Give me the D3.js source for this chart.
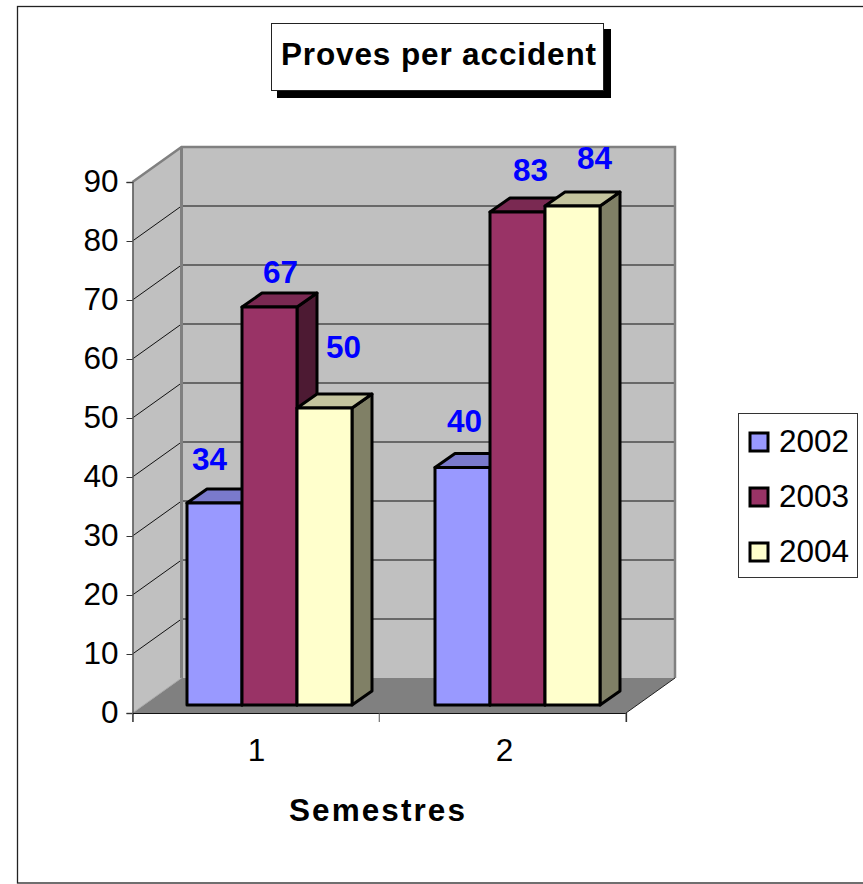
<!DOCTYPE html>
<html><head><meta charset="utf-8">
<script src="https://cdn.jsdelivr.net/npm/d3@7"></script>
<style>html,body{margin:0;padding:0;background:#fff;overflow:hidden}svg{display:block}text{font-family:"Liberation Sans",Arial,sans-serif}</style>
</head><body><svg id="c" width="863" height="884"></svg>
<script>
const categories = ["1", "2"];
const seriesNames = ["2002", "2003", "2004"];
const values2002 = [34, 40];
const values2003 = [67, 83];
const values2004 = [50, 84];
const yTicks = [0, 10, 20, 30, 40, 50, 60, 70, 80, 90];
const titleText = "Proves per accident";
const xAxisTitle = "Semestres";
const frontColors = ["#9999ff", "#993366", "#ffffcc"];
const topColors = ["#7a7acc", "#7a2952", "#c4c49e"];
const sideColors = ["#4d4d80", "#4d1a33", "#808066"];
// label nudges relative to the bar's top centre: [dx, dy] per series, per category
const labelNudges = [[[-5, -33], [2, -35]], [[11, -24], [13, -31]], [[19, -50], [22, -37]]];

const seriesValues = [values2002, values2003, values2004];
const svg = d3.select("#c");
const F = 'fill', N = 'none';
const fontSize = 31.5;

// plot geometry
const plot = {left: 132.5, right: 626, bottom: 713, top: 182, dx: 49, dy: -35};
const barDepth = {dx: 20, dy: -14};
const y = d3.scaleLinear().domain([0, 90]).range([plot.bottom, plot.top]);
const x0 = d3.scaleBand().domain(categories).range([plot.left, plot.right]);
// bars stand a little inside the floor
const barBase = 705, barUnit = 5.94;
const yBar = d3.scaleLinear().domain([0, 90]).range([barBase, barBase - 90 * barUnit]);
const xBar = d3.scaleBand().domain(categories).range([145.5, 641.5]);
const x1 = d3.scaleBand().domain(seriesNames).range([41.5, 206.5]);

const line = d3.line();
function poly(g, pts, fill, stroke, sw) {
  return g.append("path").attr("d", line(pts) + "Z").attr("fill", fill)
    .attr("stroke", stroke || "none").attr("stroke-width", sw || 0).attr("stroke-linejoin", "round");
}

// outer frame
svg.append("rect").attr("x", 17.5).attr("y", 6.5).attr("width", 900).attr("height", 876.5)
  .attr("fill", "#fff").attr("stroke", "#222").attr("stroke-width", 1.3);

// walls
const walls = svg.append("g");
const bx0 = plot.left + plot.dx, bx1 = plot.right + plot.dx;
const yT = y(90), yB = y(0);
poly(walls, [[plot.left, yB], [bx0, yB + plot.dy], [bx0, yT + plot.dy], [plot.left, yT]], "#c0c0c0");
poly(walls, [[bx0, yB + plot.dy], [bx1, yB + plot.dy], [bx1, yT + plot.dy], [bx0, yT + plot.dy]], "#c0c0c0");
poly(walls, [[plot.left, yB], [plot.right, yB], [bx1, yB + plot.dy], [bx0, yB + plot.dy]], "#808080");

// gridlines
yTicks.filter(t => t > 0 && t < 90).forEach(t => {
  walls.append("path").attr("d", line([[plot.left, y(t)], [bx0, y(t) + plot.dy], [bx1, y(t) + plot.dy]]))
    .attr(F, N).attr("stroke", "#111").attr("stroke-width", 1);
});
// wall edges
walls.append("path").attr("d", line([[plot.left, yT], [bx0, yT + plot.dy], [bx1, yT + plot.dy], [bx1, yB + plot.dy]]))
  .attr(F, N).attr("stroke", "#808080").attr("stroke-width", 2.5);
walls.append("path").attr("d", line([[bx0, yT + plot.dy], [bx0, yB + plot.dy]]))
  .attr(F, N).attr("stroke", "#808080").attr("stroke-width", 3);
walls.append("path").attr("d", line([[plot.right, yB], [bx1, yB + plot.dy]]))
  .attr(F, N).attr("stroke", "#222").attr("stroke-width", 1);
walls.append("path").attr("d", line([[plot.left, yB], [bx0, yB + plot.dy]]))
  .attr(F, N).attr("stroke", "#aaa").attr("stroke-width", 1);

// axes
const yAxis = d3.axisLeft(y).tickValues(yTicks).tickSize(6).tickPadding(8);
const gy = svg.append("g").attr("transform", `translate(${plot.left},0)`).call(yAxis);
gy.selectAll("text").attr("font-size", fontSize).attr("fill", "#000").attr("font-family", '"Liberation Sans"').attr("dy", "0.29em");
gy.selectAll("line").attr("stroke", "#333");
gy.select(".domain").attr("stroke", "#555").attr("stroke-width", 1.5);

const xAxis = d3.axisBottom(x0).tickSize(9).tickPadding(10).tickSizeOuter(9);
const gx = svg.append("g").attr("transform", `translate(0,${plot.bottom})`).call(xAxis);
gx.selectAll(".tick line").remove();
gx.selectAll(".tick").attr("transform", d => `translate(${xBar(d) + xBar.bandwidth() / 2 - 13},0)`);
gx.selectAll("text").attr("font-size", fontSize).attr("fill", "#000").attr("font-family", '"Liberation Sans"')
  .attr("dy", "0.71em").attr("y", 26);
gx.select(".domain").attr("stroke", "#111").attr("stroke-width", 1.2);
// category boundary ticks
[plot.left, x0(categories[1]), plot.right].forEach(v => {
  gx.append("line").attr("x1", v).attr("x2", v).attr("y1", 0).attr("y2", 9).attr("stroke", "#555");
});

// bars
const bars = svg.append("g");
categories.forEach((cat, ci) => {
  seriesNames.forEach((s, si) => {
    const v = seriesValues[si][ci];
    const xl = xBar(cat) + x1(s), xr = xl + x1.bandwidth();
    const yt = yBar(v), yb = yBar(0);
    const g = bars.append("g");
    const d = barDepth;
    poly(g, [[xr, yb], [xr + d.dx, yb + d.dy], [xr + d.dx, yt + d.dy], [xr, yt]], sideColors[si], "#000", 3);
    poly(g, [[xl, yt], [xr, yt], [xr + d.dx, yt + d.dy], [xl + d.dx, yt + d.dy]], topColors[si], "#000", 3);
    poly(g, [[xl, yb], [xr, yb], [xr, yt], [xl, yt]], frontColors[si], "#000", 3);
  });
});

// data labels
seriesNames.forEach((s, si) => categories.forEach((cat, ci) => {
  const v = seriesValues[si][ci];
  const n = labelNudges[si][ci];
  svg.append("text").text(v)
    .attr("x", xBar(cat) + x1(s) + x1.bandwidth() / 2 + n[0])
    .attr("y", yBar(v) + n[1])
    .attr("text-anchor", "middle").attr("font-size", fontSize).attr("font-weight", "bold").attr("fill", "#0000ff");
}));

// title box
svg.append("rect").attr("x", 277).attr("y", 29).attr("width", 334).attr("height", 69).attr("fill", "#000");
svg.append("rect").attr("x", 271.5).attr("y", 23.5).attr("width", 332).attr("height", 67)
  .attr("fill", "#fff").attr("stroke", "#222").attr("stroke-width", 1);
svg.append("text").text(titleText).attr("x", 281).attr("y", 65)
  .attr("font-size", fontSize).attr("font-weight", "bold").attr("textLength", 315).attr("lengthAdjust", "spacing");

// x axis title
svg.append("text").text(xAxisTitle).attr("x", 289).attr("y", 821)
  .attr("font-size", fontSize).attr("font-weight", "bold").attr("textLength", 176).attr("lengthAdjust", "spacing");

// legend
const legend = svg.append("g");
legend.append("rect").attr("x", 738.5).attr("y", 413.5).attr("width", 119).attr("height", 164)
  .attr("fill", "#fff").attr("stroke", "#333").attr("stroke-width", 1);
const legendY = d3.scalePoint().domain(seriesNames).range([442, 552]);
seriesNames.forEach((s, si) => {
  const cy = legendY(s);
  legend.append("rect").attr("x", 750).attr("y", cy - 9).attr("width", 18).attr("height", 18)
    .attr("fill", frontColors[si]).attr("stroke", "#000").attr("stroke-width", 3);
  legend.append("text").text(s).attr("x", 779).attr("y", cy + 10).attr("font-size", fontSize);
});
</script></body></html>
